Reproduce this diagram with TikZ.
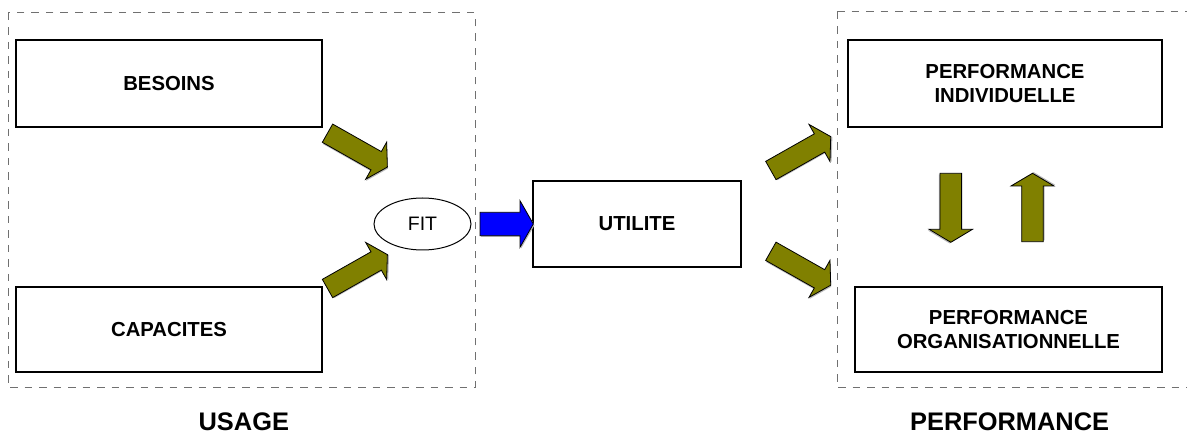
\documentclass[tikz,border=0pt]{standalone}
\usepackage{fontspec}
\setmainfont{Liberation Sans}
\usetikzlibrary{shapes.geometric,calc}
\definecolor{olivearrow}{HTML}{808000}
\definecolor{bluearrow}{HTML}{0000FF}
\definecolor{dashgray}{HTML}{707070}
% #1 tail x, #2 tail y, #3 rotation, #4 fill colour, #5 half shaft, #6 head base, #7 half head, #8 tip
\newcommand{\blockarrow}[8]{%
  \begin{scope}[shift={(#1,#2)},rotate=#3]
    \fill[gray!55,shift={(1.2,1.2)}] (0,-#5) -- (#6,-#5) -- (#6,-#7) -- (#8,0) -- (#6,#7) -- (#6,#5) -- (0,#5) -- cycle;
  \end{scope}
  \begin{scope}[shift={(#1,#2)},rotate=#3]
    \draw[blockarrowline,fill=#4] (0,-#5) -- (#6,-#5) -- (#6,-#7) -- (#8,0) -- (#6,#7) -- (#6,#5) -- (0,#5) -- cycle;
  \end{scope}}
\begin{document}
\begin{tikzpicture}[x=1pt,y=-1pt,
  textbox/.style={draw=black,line width=1.1pt,fill=white,inner sep=0pt,align=center,
    font=\fontsize{20.3}{23.4}\selectfont\bfseries},
  dashbox/.style={draw=dashgray,line width=1pt,dash pattern=on 7.5pt off 7pt},
  biglabel/.style={font=\fontsize{25.4}{28}\selectfont\bfseries},
  blockarrowline/.style={draw=black,line width=0.8pt,line join=miter}]
\useasboundingbox (0,0) rectangle (1187,435);

% dashed groups
\draw[dashbox] (8,13) rectangle (475,388);
\draw[dashbox] (837,12) -- (1195,12);
\draw[dashbox] (837,12) -- (837,388) -- (1195,388);

% boxes
\node[textbox,minimum width=306pt,minimum height=87pt] (besoins) at (169,83.5) {BESOINS};
\node[textbox,minimum width=306pt,minimum height=85pt] (capacites) at (169,329.5) {CAPACITES};
\node[draw=black,line width=1pt,ellipse,minimum width=97pt,minimum height=52pt,inner sep=0pt,
  font=\fontsize{19.5}{23}\selectfont] (fit) at (422.5,224) {FIT};
\node[textbox,minimum width=208pt,minimum height=86pt] (utilite) at (637,224) {UTILITE};
\node[textbox,minimum width=314pt,minimum height=87pt] (perfind) at (1005,83.5) {PERFORMANCE\\INDIVIDUELLE};
\node[textbox,minimum width=307pt,minimum height=85pt] (perforg) at (1008.5,329.5) {PERFORMANCE\\ORGANISATIONNELLE};

% labels
\node[biglabel] (usage) at (243.8,422) {USAGE};
\node[biglabel] (perf) at (1009.6,422) {PERFORMANCE};

% block arrows
\blockarrow{327.5}{133.2}{-29.5}{olivearrow}{10.5}{55.9}{21.3}{68.8}
\blockarrow{327.5}{288.5}{29.5}{olivearrow}{10.5}{55.9}{21.3}{68.8}
\blockarrow{770.85}{170.5}{29.5}{olivearrow}{10.5}{55.9}{21.3}{68.8}
\blockarrow{770.85}{251.3}{-29.5}{olivearrow}{10.5}{55.9}{21.3}{68.8}
\blockarrow{950.8}{173.3}{-90}{olivearrow}{10.8}{56}{21.7}{69}
\blockarrow{1032.5}{241.7}{90}{olivearrow}{10.8}{55.7}{21.5}{68.4}
\blockarrow{480}{224}{0}{bluearrow}{11.7}{40}{23.3}{53.3}
\end{tikzpicture}
\end{document}
